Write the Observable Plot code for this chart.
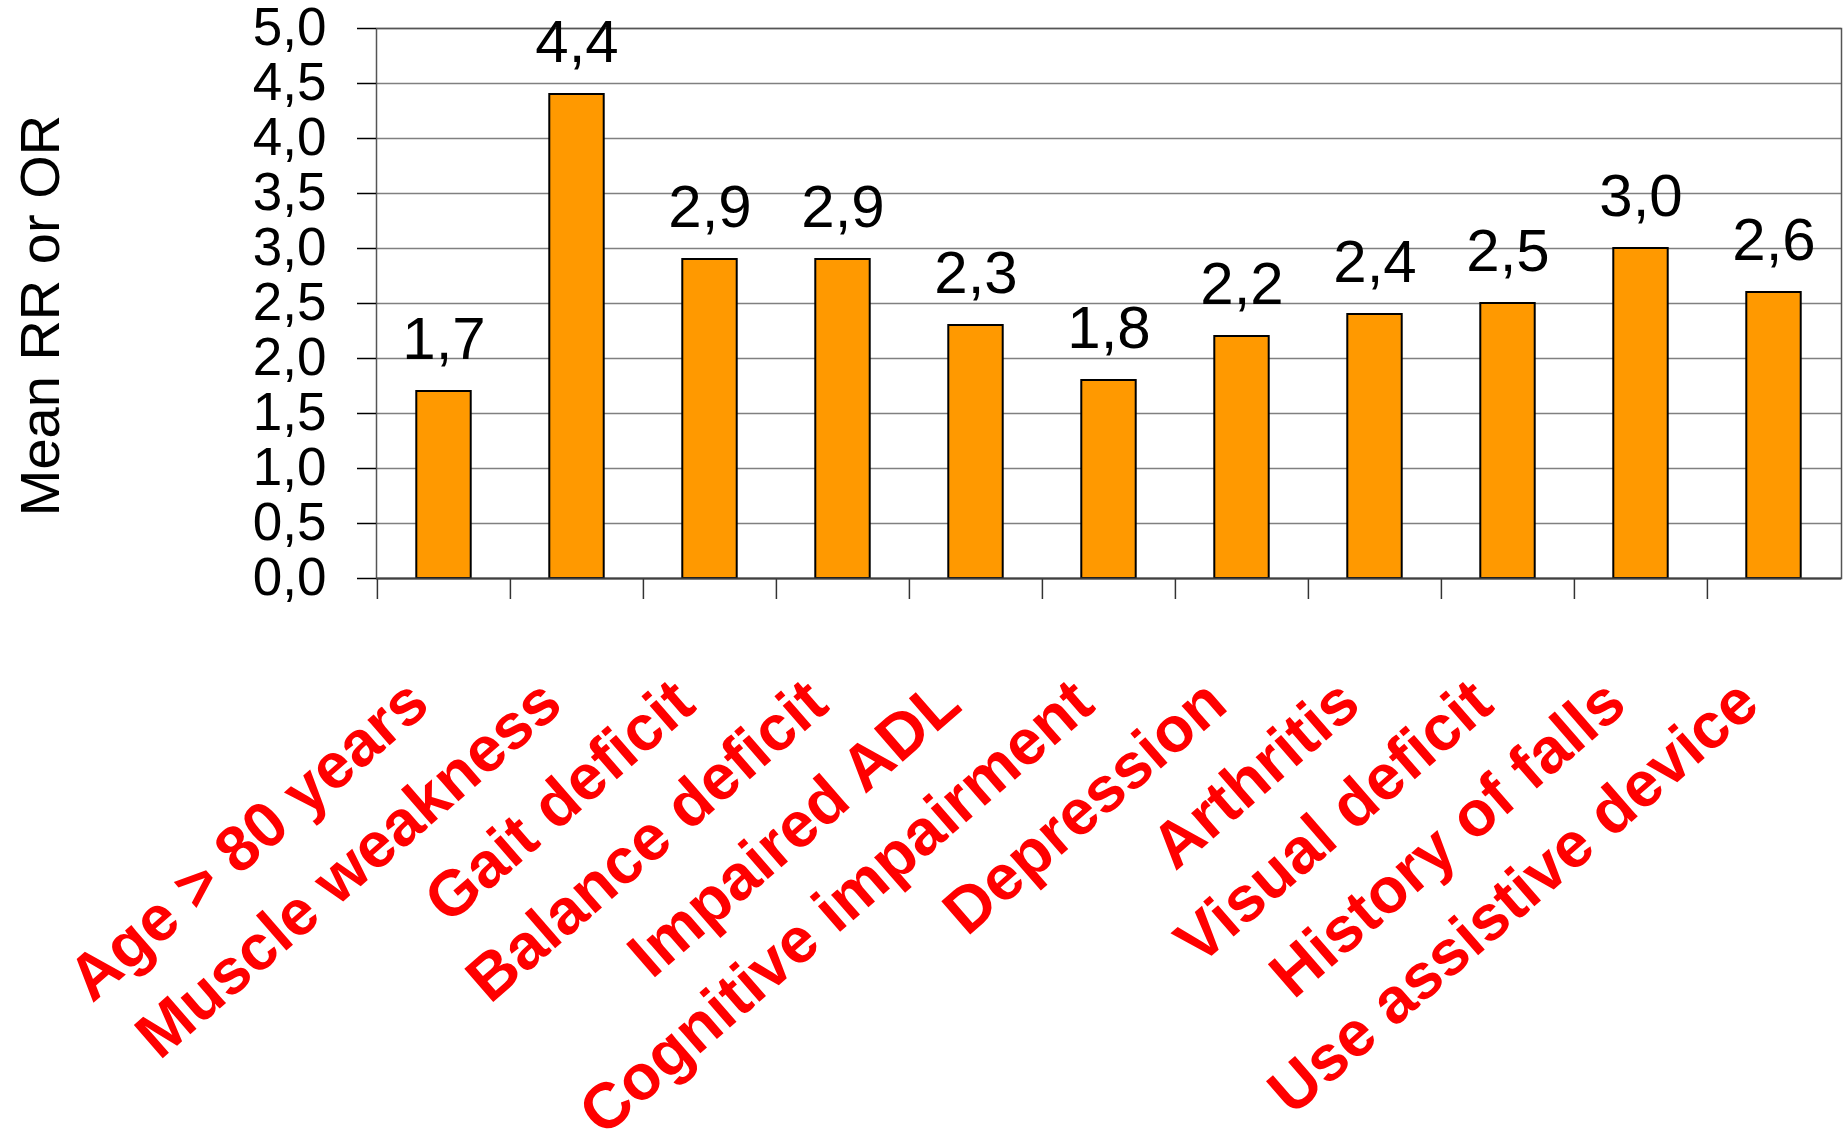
<!DOCTYPE html>
<html>
<head>
<meta charset="utf-8">
<script src="https://cdn.jsdelivr.net/npm/d3@7"></script>
<script src="https://cdn.jsdelivr.net/npm/@observablehq/plot@0.6"></script>
<style>
  html, body { margin: 0; padding: 0; background: #fff; }
  #chart svg { display: block; }
</style>
</head>
<body>
<div id="chart"></div>
<script>
const categories = [
  "Age > 80 years",
  "Muscle weakness",
  "Gait deficit",
  "Balance deficit",
  "Impaired ADL",
  "Cognitive impairment",
  "Depression",
  "Arthritis",
  "Visual deficit",
  "History of falls",
  "Use assistive device"
];
const values = [1.7, 4.4, 2.9, 2.9, 2.3, 1.8, 2.2, 2.4, 2.5, 3.0, 2.6];
const yTicks = [0, 0.5, 1, 1.5, 2, 2.5, 3, 3.5, 4, 4.5, 5];
const yLabel = "Mean RR or OR";

const data = categories.map((c, i) => ({category: c, value: values[i]}));
const fmt = d => d.toFixed(1).replace(".", ",");

const W = 1843, H = 1146;
const ML = 376, MR = 2, MT = 28, MB = 568;
const step = (W - ML - MR) / categories.length;

const chart = Plot.plot({
  width: W,
  height: H,
  marginLeft: ML,
  marginRight: MR,
  marginTop: MT,
  marginBottom: MB,
  style: {fontFamily: "'Liberation Sans', Arial, sans-serif", background: "#fff", overflow: "visible"},
  x: {domain: categories, padding: 0},
  y: {domain: [0, 5]},
  marks: [
    Plot.gridY(yTicks, {stroke: "#808080", strokeOpacity: 1, strokeWidth: 1.5}),
    Plot.frame({stroke: "#555", strokeWidth: 1.5}),
    Plot.axisY(yTicks, {
      tickSize: 19, tickPadding: 31, tickFormat: fmt, fontSize: 53,
      color: "#000", strokeWidth: 1.5, label: null
    }),
    Plot.axisX(categories, {
      tickSize: 21, tickFormat: () => "", dx: -step / 2,
      stroke: "#333", strokeWidth: 1.5, label: null
    }),
    Plot.barY(data, {
      x: "category", y: "value",
      fill: "#ff9900", stroke: "#000", strokeWidth: 2,
      insetLeft: step * 0.295, insetRight: step * 0.295
    }),
    Plot.ruleY([0], {stroke: "#404040", strokeWidth: 2}),
    Plot.text(data, {
      x: "category", y: "value", text: d => fmt(d.value),
      dy: -33, lineAnchor: "bottom", fontSize: 60, fill: "#000"
    }),
    Plot.text(categories, {
      x: d => d, text: d => d, frameAnchor: "bottom",
      dx: -12, dy: 130, rotate: -41, textAnchor: "end", lineAnchor: "bottom",
      fontSize: 64, fontWeight: "bold", fill: "#ff0000"
    }),
    Plot.text([yLabel], {
      text: d => d, frameAnchor: "left", rotate: -90,
      dx: -335, dy: 12, textAnchor: "middle", lineAnchor: "middle",
      fontSize: 56, fill: "#000"
    })
  ]
});
document.getElementById("chart").appendChild(chart);
</script>
</body>
</html>
